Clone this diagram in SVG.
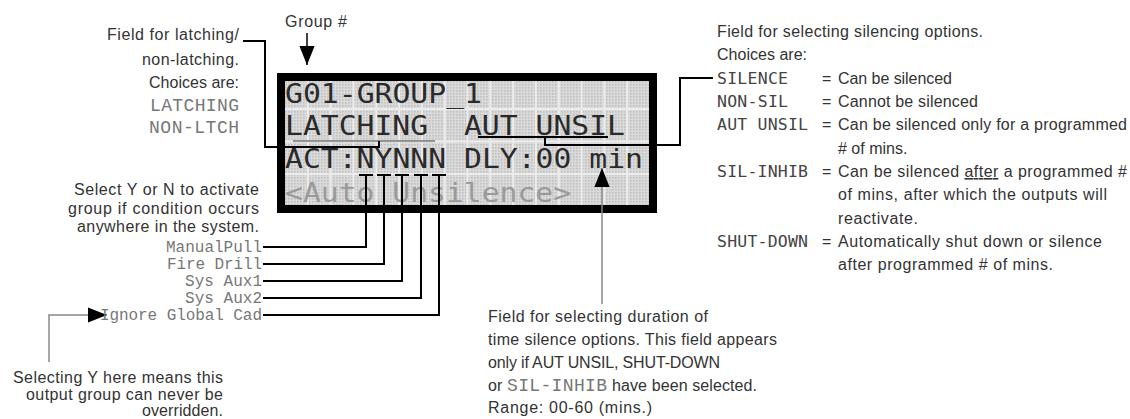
<svg xmlns="http://www.w3.org/2000/svg" width="1130" height="419" viewBox="0 0 1130 419">
<style>
.h{font-family:"Liberation Sans","DejaVu Sans",sans-serif;font-size:16px;fill:#333}
.m{font-family:"Liberation Mono","DejaVu Sans Mono",monospace;fill:#777}
.k{font-family:"DejaVu Sans Mono","Liberation Mono",monospace;font-size:16.5px;fill:#444}
.lcd{font-family:"DejaVu Sans Mono","Liberation Mono",monospace;font-size:26px;fill:#2a2a2a}
.ln{fill:none;stroke:#000;stroke-width:2}
.gl{fill:none;stroke:#888;stroke-width:1.5}
.grid{stroke:#ececec;stroke-width:2}
</style>
<defs>
<pattern id="dots" width="3" height="3" patternUnits="userSpaceOnUse"><rect width="3" height="3" fill="#dadada"/><rect width="1.6" height="1.6" fill="#c0c0c0"/></pattern>
<marker id="ah" viewBox="0 0 20 16" refX="20" refY="8" markerWidth="19" markerHeight="16" markerUnits="userSpaceOnUse" orient="auto"><path d="M0,0 L20,8 L0,16 z" fill="#000"/></marker>
</defs>

<g id="lcd">
<rect x="285" y="81" width="365" height="125" fill="url(#dots)"/>
<g class="grid">
<line x1="307.8" y1="81" x2="307.8" y2="206"/><line x1="330.6" y1="81" x2="330.6" y2="206"/><line x1="353.4" y1="81" x2="353.4" y2="206"/><line x1="376.3" y1="81" x2="376.3" y2="206"/><line x1="399.1" y1="81" x2="399.1" y2="206"/><line x1="421.9" y1="81" x2="421.9" y2="206"/><line x1="444.7" y1="81" x2="444.7" y2="206"/><line x1="467.5" y1="81" x2="467.5" y2="206"/><line x1="490.3" y1="81" x2="490.3" y2="206"/><line x1="513.1" y1="81" x2="513.1" y2="206"/><line x1="535.9" y1="81" x2="535.9" y2="206"/><line x1="558.8" y1="81" x2="558.8" y2="206"/><line x1="581.6" y1="81" x2="581.6" y2="206"/><line x1="604.4" y1="81" x2="604.4" y2="206"/><line x1="627.2" y1="81" x2="627.2" y2="206"/>
<line x1="285" y1="109" x2="650" y2="109"/><line x1="285" y1="141.5" x2="650" y2="141.5"/><line x1="285" y1="174" x2="650" y2="174"/>
</g>
<rect x="281" y="77" width="372" height="132" fill="none" stroke="#000" stroke-width="8"/>
<text class="lcd" x="285" y="103" textLength="197" lengthAdjust="spacingAndGlyphs">G01-GROUP_1</text>
<text class="lcd" x="285" y="135" textLength="340" lengthAdjust="spacingAndGlyphs" xml:space="preserve">LATCHING  AUT UNSIL</text>
<text class="lcd" x="285" y="168" textLength="358" lengthAdjust="spacingAndGlyphs" xml:space="preserve">ACT:NYNNN DLY:00 min</text>
<text class="lcd" x="285" y="202" textLength="286" lengthAdjust="spacingAndGlyphs" style="fill:#9a9a9a">&lt;Auto Unsilence&gt;</text>
</g>

<g id="connectors">
<line x1="293" y1="141" x2="435" y2="141" stroke="#777" stroke-width="1.5"/>
<path class="ln" d="M243,41 H265 V147 H379 V141"/>
<line x1="307" y1="33" x2="307" y2="65" stroke="#000" stroke-width="1.5" marker-end="url(#ah)"/>
<path class="ln" d="M478,137 H608 M545,137 V145 H680 V78 H713"/>
<path class="ln" d="M359,175 H373 M377,175 H391 M395,175 H409 M414,175 H428 M432,175 H446"/>
<path class="ln" d="M366,175 V247 H263"/>
<path class="ln" d="M384,175 V264 H263"/>
<path class="ln" d="M402,175 V281 H263"/>
<path class="ln" d="M421,175 V298 H263"/>
<path class="ln" d="M439,175 V315 H263"/>
<line class="gl" x1="602" y1="304" x2="602" y2="168" marker-end="url(#ah)"/>
<path class="gl" d="M49,362 V315 H107" marker-end="url(#ah)"/>
</g>

<g id="group-label">
<text class="h" x="285" y="27" textLength="62">Group #</text>
</g>

<g id="latching-note">
<text class="h" x="107" y="40" textLength="132">Field for latching/</text>
<text class="h" x="142" y="65" textLength="97">non-latching.</text>
<text class="h" x="149" y="88" textLength="90">Choices are:</text>
<text class="m" x="150" y="111" font-size="18" textLength="89">LATCHING</text>
<text class="m" x="149" y="133" font-size="18" textLength="90">NON-LTCH</text>
</g>

<g id="silencing-note">
<text class="h" x="717" y="37" textLength="266">Field for selecting silencing options.</text>
<text class="h" x="717" y="60" textLength="90">Choices are:</text>
<text class="k" x="717" y="84" textLength="71">SILENCE</text>
<text class="h" x="822" y="84">=</text>
<text class="h" x="838" y="84" textLength="114">Can be silenced</text>
<text class="k" x="717" y="107" textLength="71">NON-SIL</text>
<text class="h" x="822" y="107">=</text>
<text class="h" x="838" y="107" textLength="140">Cannot be silenced</text>
<text class="k" x="717" y="130" textLength="91" xml:space="preserve">AUT UNSIL</text>
<text class="h" x="822" y="130">=</text>
<text class="h" x="838" y="130" textLength="289">Can be silenced only for a programmed</text>
<text class="h" x="838" y="154"># of mins.</text>
<text class="k" x="717" y="177" textLength="91">SIL-INHIB</text>
<text class="h" x="822" y="177">=</text>
<text class="h" x="838" y="177" textLength="289">Can be silenced <tspan text-decoration="underline">after</tspan> a programmed #</text>
<text class="h" x="838" y="200" textLength="269">of mins, after which the outputs will</text>
<text class="h" x="838" y="224" textLength="80">reactivate.</text>
<text class="k" x="717" y="247" textLength="91">SHUT-DOWN</text>
<text class="h" x="822" y="247">=</text>
<text class="h" x="838" y="247" textLength="264">Automatically shut down or silence</text>
<text class="h" x="838" y="270" textLength="215">after programmed # of mins.</text>
</g>

<g id="activate-note">
<text class="h" x="74" y="195" textLength="185">Select Y or N to activate</text>
<text class="h" x="68" y="214" textLength="191">group if condition occurs</text>
<text class="h" x="77" y="232" textLength="182">anywhere in the system.</text>
<text class="m" x="166" y="252" font-size="16" textLength="96">ManualPull</text>
<text class="m" x="167" y="269" font-size="16" textLength="95" xml:space="preserve">Fire Drill</text>
<text class="m" x="185" y="286" font-size="16" textLength="77">Sys Aux1</text>
<text class="m" x="185" y="303" font-size="16" textLength="77">Sys Aux2</text>
<text class="m" x="100" y="320" font-size="16" textLength="162">Ignore Global Cad</text>
</g>

<g id="override-note">
<text class="h" x="13" y="383" textLength="210">Selecting Y here means this</text>
<text class="h" x="26" y="400" textLength="197">output group can never be</text>
<text class="h" x="142" y="416" textLength="81">overridden.</text>
</g>

<g id="duration-note">
<text class="h" x="488" y="322" textLength="220">Field for selecting duration of</text>
<text class="h" x="488" y="345" textLength="289">time silence options. This field appears</text>
<text class="h" x="488" y="368" textLength="232">only if AUT UNSIL, SHUT-DOWN</text>
<text class="h" x="488" y="391">or</text>
<text class="m" x="507" y="391" font-size="18" textLength="100">SIL-INHIB</text>
<text class="h" x="612" y="391" textLength="145">have been selected.</text>
<text class="h" x="488" y="413" textLength="164">Range: 00-60 (mins.)</text>
</g>
</svg>
